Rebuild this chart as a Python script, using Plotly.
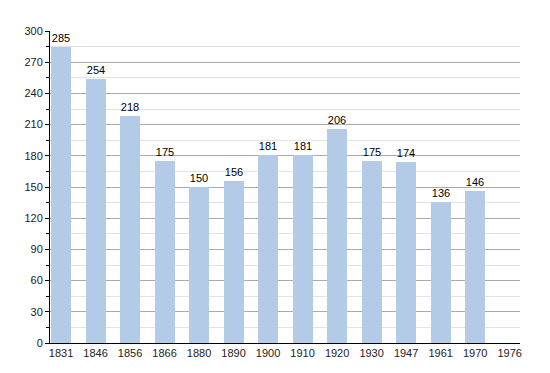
import plotly.graph_objects as go

years = ["1831", "1846", "1856", "1866", "1880", "1890", "1900", "1910", "1920", "1930", "1947", "1961", "1970", "1976"]
population = [285, 254, 218, 175, 150, 156, 181, 181, 206, 175, 174, 136, 146, None]
y_ticks = [0, 30, 60, 90, 120, 150, 180, 210, 240, 270, 300]

labels = [str(v) if v is not None else "" for v in population]

fig = go.Figure()
fig.add_trace(go.Bar(
    x=list(range(len(years))), y=population,
    marker=dict(color="#b3cbe6", line=dict(width=0)),
    width=0.58,
    text=labels, textposition="outside",
    textfont=dict(family="Liberation Sans, Arial, sans-serif", size=11, color="#000"),
    cliponaxis=False,
))

fig.update_layout(
    width=542, height=365,
    margin=dict(l=42, r=30, t=23, b=30),
    paper_bgcolor="white", plot_bgcolor="white",
    showlegend=False,
    font=dict(family="Liberation Sans, Arial, sans-serif", size=11, color="#222"),
    xaxis=dict(
        tickmode="array", tickvals=list(range(len(years))), ticktext=years,
        range=[-0.32, 13.3], showgrid=False, showline=True, linecolor="#000", linewidth=1,
        ticks="", zeroline=False, tickfont=dict(size=11, color="#222"),
    ),
    yaxis=dict(
        range=[0, 300], tickvals=y_ticks, showgrid=True, gridcolor="#aaaaaa", gridwidth=1,
        showline=True, linecolor="#000", linewidth=1, ticks="outside", ticklen=4, tickcolor="#000",
        zeroline=False, tickfont=dict(size=11, color="#222"),
        minor=dict(dtick=15, tick0=0, showgrid=True, gridcolor="#e3e3e3", gridwidth=1,
                   ticks="outside", ticklen=3, tickcolor="#000"),
    ),
    bargap=0,
)

fig.write_html("out.html")
